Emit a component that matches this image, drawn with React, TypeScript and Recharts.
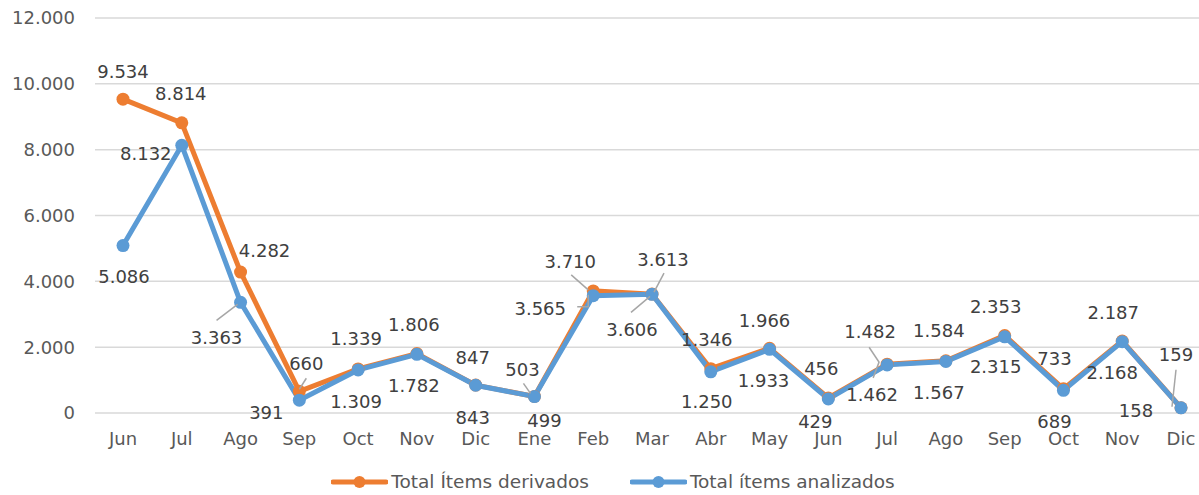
import { CartesianGrid, LabelList, Legend, Line, LineChart, XAxis, YAxis } from 'recharts';

const MONTHS = ['Jun', 'Jul', 'Ago', 'Sep', 'Oct', 'Nov', 'Dic', 'Ene', 'Feb', 'Mar', 'Abr', 'May', 'Jun', 'Jul', 'Ago', 'Sep', 'Oct', 'Nov', 'Dic'];
const DERIVADOS = [9534, 8814, 4282, 660, 1339, 1806, 847, 503, 3710, 3613, 1346, 1966, 456, 1482, 1584, 2353, 733, 2187, 159];
const ANALIZADOS = [5086, 8132, 3363, 391, 1309, 1782, 843, 499, 3565, 3606, 1250, 1933, 429, 1462, 1567, 2315, 689, 2168, 158];
const Y_TICKS = [0, 2000, 4000, 6000, 8000, 10000, 12000];

const SERIES_NAMES = ['Total Ítems derivados', 'Total ítems analizados'];
const ORANGE = '#ED7D31';
const BLUE = '#5B9BD5';
const FONT = '"DejaVu Sans", Verdana, sans-serif';

// label centre offsets from each point (Excel placed these by hand)
const DERIV_OFFSETS: [number, number][] = [
  [0, -28], [-1, -29], [24, -22], [7, -28], [-2, -30], [-3, -29], [-3, -28], [-12, -27], [-23, -29], [11, -35],
  [-4, -29], [-5, -28], [-7, -29], [-17, -33], [-7, -30], [-9, -29], [-9, -30], [-9, -29], [-5, -53],
];
const ANALIZ_OFFSETS: [number, number][] = [
  [1, 31], [-36, 8], [-24, 35], [-33, 12], [-2, 32], [-3, 31], [-3, 32], [10, 24], [-53, 13], [-20, 35],
  [-4, 30], [-6, 31], [-13, 23], [-15, 30], [-7, 31], [-9, 30], [-9, 31], [-10, 31], [-45, 3],
];
// leader lines, as polylines relative to the point
const DERIV_LEADERS: Record<number, number[][]> = {
  3: [[7, -13], [0, -2]],
  7: [[-11, -13], [-4, -3]],
  8: [[-22, -16], [-5, -1]],
  9: [[12, -21], [2, -2]],
  13: [[-18, -17], [-8, -2]],
  18: [[-5, -38], [-9, -1]],
};
const ANALIZ_LEADERS: Record<number, number[][]> = {
  2: [[-24, 18], [-3, 2]],
  8: [[-5, -1], [-5, 11], [-16, 11]],
  9: [[-21, 18], [-2, 2]],
  13: [[-14, 13], [-8, -3]],
};

const fmt = (v: number) => String(v).replace(/\B(?=(\d{3})+(?!\d))/g, '.');

function makeLabel(offsets: [number, number][], leaders: Record<number, number[][]>) {
  return (props: any) => {
    const { x, y, value, index } = props;
    const [dx, dy] = offsets[index] ?? [0, -28];
    const leader = leaders[index];
    return (
      <g>
        {leader && (
          <polyline
            points={leader.map(([lx, ly]) => `${x + lx},${y + ly}`).join(' ')}
            fill="none"
            stroke="#A6A6A6"
            strokeWidth={1.5}
          />
        )}
        <text
          x={x + dx}
          y={y + dy}
          textAnchor="middle"
          dominantBaseline="central"
          fontSize={18}
          fontFamily={FONT}
          fill="#404040"
        >
          {fmt(value)}
        </text>
      </g>
    );
  };
}

const data = MONTHS.map((m, i) => ({ month: m, derivados: DERIVADOS[i], analizados: ANALIZADOS[i] }));

function LegendContent() {
  const items = [
    { name: SERIES_NAMES[0], color: ORANGE },
    { name: SERIES_NAMES[1], color: BLUE },
  ];
  return (
    <div style={{ height: 42, display: 'flex', justifyContent: 'center', alignItems: 'flex-end', gap: 41 }}>
      {items.map((it) => (
        <div key={it.name} style={{ display: 'flex', alignItems: 'center', marginBottom: 2 }}>
          <svg width={57} height={16} style={{ marginRight: 3 }}>
            <line x1={2} y1={8} x2={55} y2={8} stroke={it.color} strokeWidth={5} strokeLinecap="round" />
            <circle cx={28.5} cy={8} r={6} fill={it.color} />
          </svg>
          <span style={{ fontFamily: FONT, fontSize: 18.5, color: '#595959', lineHeight: '22px' }}>{it.name}</span>
        </div>
      ))}
    </div>
  );
}

export default function App() {
  const tick = { fontSize: 18, fontFamily: FONT, fill: '#595959' };
  return (
    <div style={{ position: 'absolute', left: 0, top: 0, width: 1199, height: 495, overflow: 'hidden', background: '#fff' }}>
      <LineChart width={1230} height={495} data={data} margin={{ top: 18, right: 19, left: 15, bottom: 0 }}>
        <CartesianGrid vertical={false} stroke="#D9D9D9" strokeWidth={1.5} />
        <XAxis
          dataKey="month"
          axisLine={false}
          tickLine={false}
          tickSize={6}
          tickMargin={13}
          height={40}
          tick={tick}
          interval={0}
          padding={{ left: 28, right: 30 }}
        />
        <YAxis
          domain={[0, 12000]}
          ticks={Y_TICKS}
          tickFormatter={fmt}
          axisLine={false}
          tickLine={false}
          tickSize={6}
          tickMargin={14}
          width={80}
          tick={tick}
        />
        <Legend verticalAlign="bottom" height={42} content={() => <LegendContent />} />
        <Line
          type="linear"
          dataKey="derivados"
          name={SERIES_NAMES[0]}
          stroke={ORANGE}
          strokeWidth={5}
          dot={{ r: 6.5, fill: ORANGE, stroke: ORANGE, strokeWidth: 0 }}
          isAnimationActive={false}
        >
          <LabelList dataKey="derivados" content={makeLabel(DERIV_OFFSETS, DERIV_LEADERS)} />
        </Line>
        <Line
          type="linear"
          dataKey="analizados"
          name={SERIES_NAMES[1]}
          stroke={BLUE}
          strokeWidth={5}
          dot={{ r: 6.5, fill: BLUE, stroke: BLUE, strokeWidth: 0 }}
          isAnimationActive={false}
        >
          <LabelList dataKey="analizados" content={makeLabel(ANALIZ_OFFSETS, ANALIZ_LEADERS)} />
        </Line>
      </LineChart>
    </div>
  );
}
